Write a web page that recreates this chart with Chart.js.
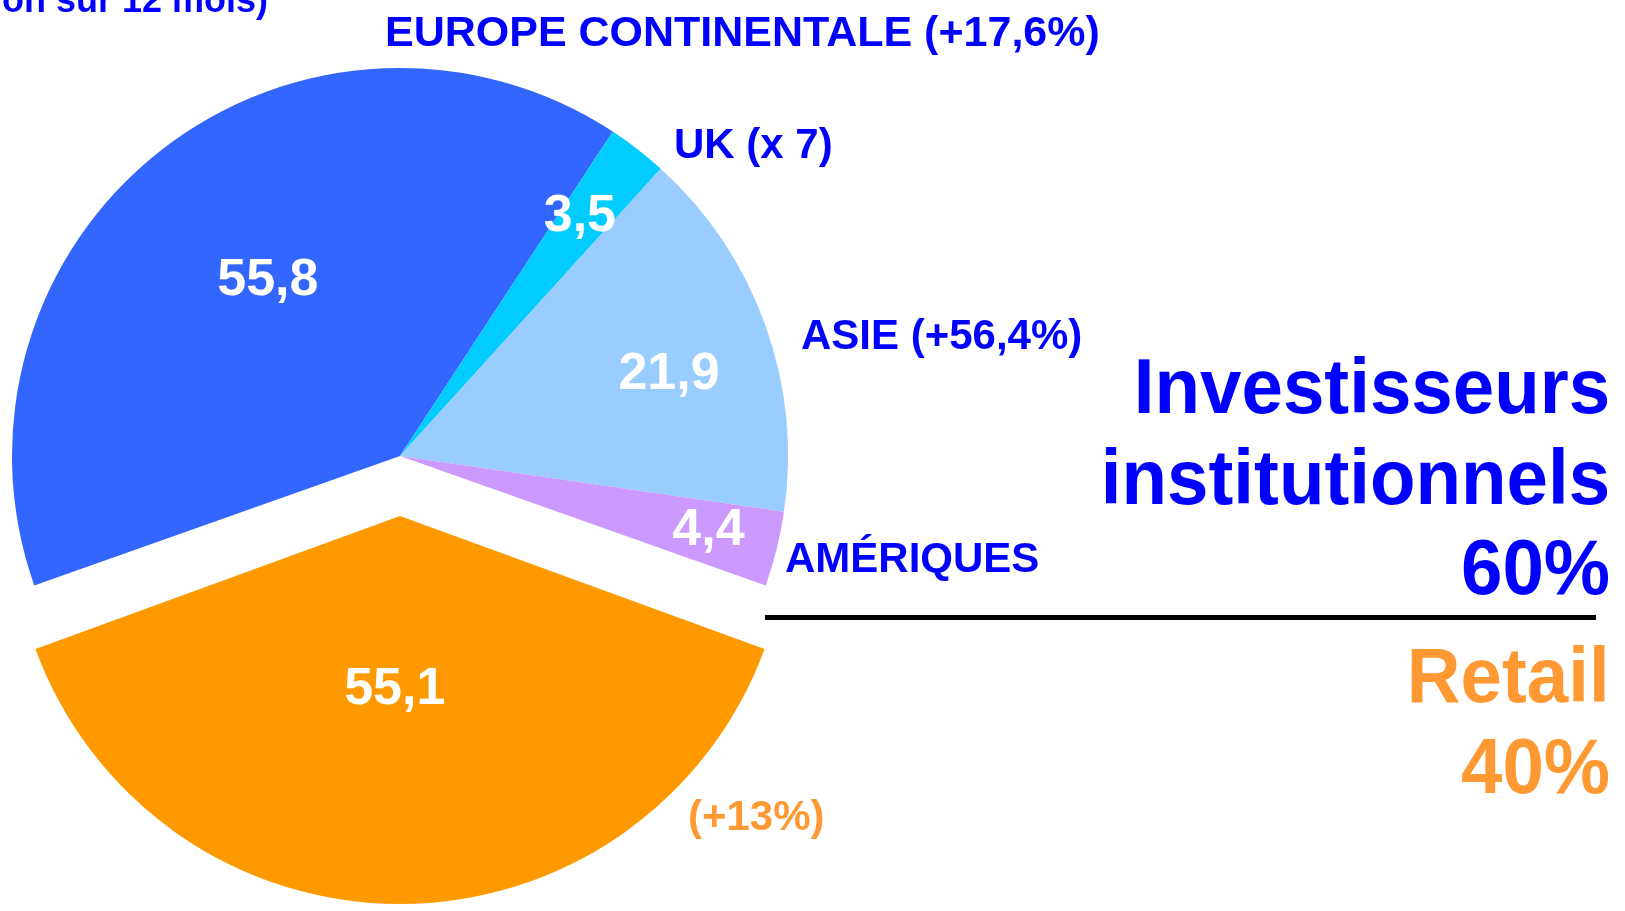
<!DOCTYPE html>
<html lang="fr">
<head>
<meta charset="utf-8">
<title>Répartition des encours</title>
<script src="https://cdn.jsdelivr.net/npm/chart.js@4.4.1/dist/chart.umd.min.js"></script>
<style>
  html, body { margin: 0; padding: 0; background: #fff; overflow: hidden; }
  #wrap { position: relative; width: 1625px; height: 911px; }
  #wrap canvas { position: absolute; left: 0; top: 0; }
  .lbl {
    position: absolute; white-space: nowrap; line-height: 1;
    font-family: "Liberation Sans", Arial, sans-serif; font-weight: bold;
  }
  .sm { font-size: 42px; color: #0000ff; }
  .big { font-size: 77px; right: 15px; text-align: right; transform: scaleX(0.968); transform-origin: right center; }
  .blue { color: #0000ff; }
  .orange { color: #ff9933; }
  #rule { position: absolute; left: 765px; width: 831px; top: 615px; height: 5px; background: #000; }
</style>
</head>
<body>
<div id="wrap">
  <canvas id="pie"></canvas>
  <div class="lbl sm" style="right:1357px; top:-18px; font-size:36px;">(évolution sur 12 mois)</div>
  <div class="lbl sm" style="left:385px; top:10px; font-size:43px;">EUROPE CONTINENTALE (+17,6%)</div>
  <div class="lbl sm" style="left:674px; top:123px;">UK (x 7)</div>
  <div class="lbl sm" style="left:801px; top:314px;">ASIE (+56,4%)</div>
  <div class="lbl sm" style="left:785px; top:537px;">AMÉRIQUES</div>
  <div class="lbl sm orange" style="left:688px; top:795px;">(+13%)</div>
  <div class="lbl big blue" style="top:348px;">Investisseurs</div>
  <div class="lbl big blue" style="top:439px;">institutionnels</div>
  <div class="lbl big blue" style="top:529px;">60%</div>
  <div id="rule"></div>
  <div class="lbl big orange" style="top:637px;">Retail</div>
  <div class="lbl big orange" style="top:728px;">40%</div>
</div>
<script>
// ── Data ──
const categories = ["Retail", "Europe continentale", "UK", "Asie", "Amériques"];
const values = [55.1, 55.8, 3.5, 21.9, 4.4];

// ── Styles ──
const sliceColors = ["#ff9900", "#3366ff", "#00ccff", "#99ccff", "#cc99ff"];
const explode = [60, 0, 0, 0, 0];           // px the slice is pulled out
const labelRadius = [0.443, 0.571, 0.775, 0.726, 0.817];
const labelAngleShift = [1.3, 1.5, -1, 2.5, -0.6];  // degrees
const PIE_R = 388;
const FONT = "'Liberation Sans', Arial, sans-serif";

const total = values.reduce((a, b) => a + b, 0);
// retail slice centred on the bottom
const startRotation = 180 - (values[0] / total) * 180;

const fmt = (v) => String(v).replace(".", ",");

// Chart.js translates an arc by offset/4 and also grows its radius a bit;
// undo the growth so the pulled-out slice keeps the pie radius.
const keepRadius = {
  id: "keepRadius",
  afterDatasetsUpdate(chart) {
    chart.getDatasetMeta(0).data.forEach((arc, i) => {
      const shift = explode[i];
      if (!shift) return;
      const circ = arc.endAngle - arc.startAngle;
      const fix = 1 - Math.sin(Math.min(Math.PI, circ));
      arc.outerRadius = PIE_R - shift * fix;
    });
  }
};

const valueLabels = {
  id: "valueLabels",
  afterDatasetsDraw(chart) {
    const { ctx } = chart;
    const arcs = chart.getDatasetMeta(0).data;
    ctx.save();
    ctx.fillStyle = "#fff";
    ctx.font = "bold 52px " + FONT;
    ctx.textAlign = "center";
    ctx.textBaseline = "middle";
    arcs.forEach((arc, i) => {
      const mid = (arc.startAngle + arc.endAngle) / 2 + labelAngleShift[i] * Math.PI / 180;
      const r = PIE_R * labelRadius[i] + explode[i];
      const x = arc.x + Math.cos(mid) * r;
      const y = arc.y + Math.sin(mid) * r;
      ctx.fillText(fmt(values[i]), x, y + 2);
    });
    ctx.restore();
  }
};

new Chart(document.getElementById("pie"), {
  type: "pie",
  data: {
    labels: categories,
    datasets: [{
      data: values,
      backgroundColor: sliceColors,
      borderWidth: 0,
      offset: explode.map((d) => d * 4)
    }]
  },
  options: {
    responsive: true,
    maintainAspectRatio: false,
    animation: false,
    devicePixelRatio: 1,
    rotation: startRotation,
    radius: PIE_R,
    layout: { padding: { left: 0, top: 1, right: 825, bottom: 0 } },
    plugins: {
      legend: { display: false },
      tooltip: { enabled: false }
    }
  },
  plugins: [keepRadius, valueLabels]
});
</script>
</body>
</html>
